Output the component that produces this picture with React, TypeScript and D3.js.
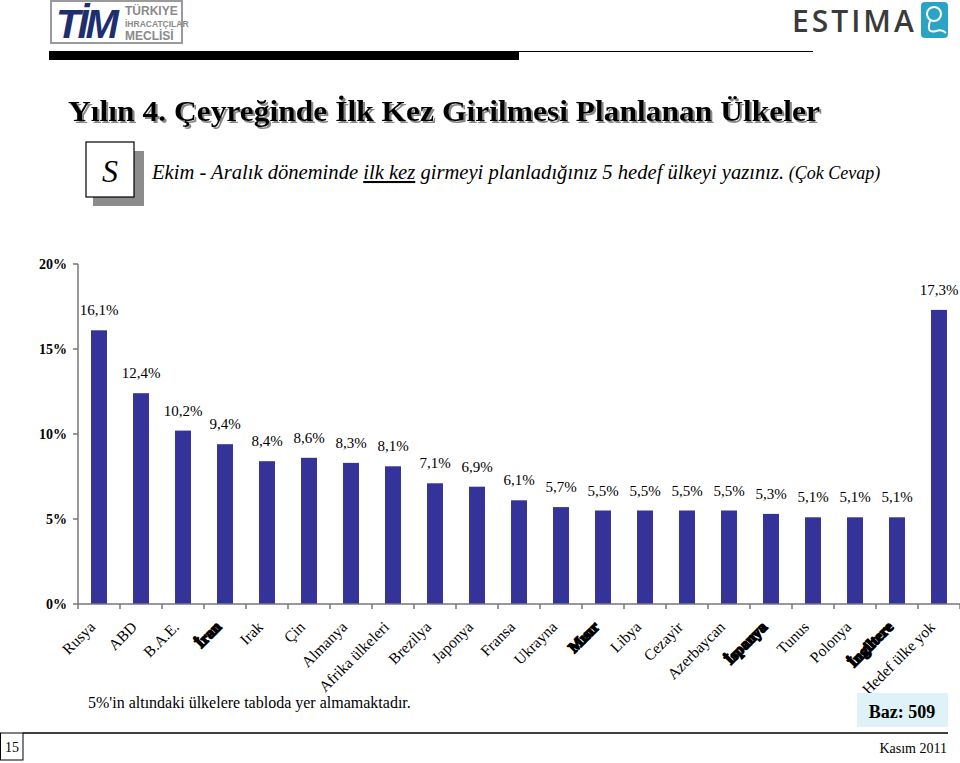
import React from "react";
import * as d3 from "d3";

const countries = [
  "Rusya", "ABD", "B.A.E.", "İran", "Irak", "Çin", "Almanya", "Afrika ülkeleri",
  "Brezilya", "Japonya", "Fransa", "Ukrayna", "Mısır", "Libya", "Cezayir",
  "Azerbaycan", "İspanya", "Tunus", "Polonya", "İngiltere", "Hedef ülke yok",
];
const shares = [
  16.1, 12.4, 10.2, 9.4, 8.4, 8.6, 8.3, 8.1, 7.1, 6.9, 6.1, 5.7, 5.5, 5.5, 5.5,
  5.5, 5.3, 5.1, 5.1, 5.1, 17.3,
];
// labels that look smudged / bold in the original slide
const boldLabels = ["İran", "Mısır", "İspanya", "İngiltere"];
const yTicks = [0, 5, 10, 15, 20];

const W = 960;
const H = 763;
const serif = "'Liberation Serif', 'DejaVu Serif', serif";
const barColor = "#333399";

const fmt = (v: number) => v.toFixed(1).replace(".", ",") + "%";

export default function App() {
  const x = d3.scaleBand<string>().domain(countries).range([78, 960]).paddingInner(0.62).paddingOuter(0.31);
  const y = d3.scaleLinear().domain([0, 20]).range([604, 264]);
  const step = x.step();
  const bounds = d3.range(countries.length + 1).map((i) => 78 + i * step);

  return (
    <svg width={W} height={H} style={{ position: "absolute", left: 0, top: 0 }} fontFamily={serif}>
      <defs>
        <filter id="titleShadow" x="-5%" y="-30%" width="110%" height="160%">
          <feDropShadow dx={2} dy={2} stdDeviation={0.6} floodColor="#888" floodOpacity={1} />
        </filter>
      </defs>
      <rect width={W} height={H} fill="#fff" />

      {/* TIM logo */}
      <g>
        <rect x={51} y={1} width={131} height={42} fill="#fff" stroke="#9a9a9a" strokeWidth={2} />
        <text x={56} y={38} fontFamily="'Liberation Sans', Arial, sans-serif" fontWeight="bold" fontStyle="italic" fontSize={40} fill="#1d2f6f" letterSpacing={-3}>TİM</text>
        <g fontFamily="'Liberation Sans', Arial, sans-serif" fontWeight="bold" fill="#8a8a8a">
          <text x={125} y={15} fontSize={12}>TÜRKIYE</text>
          <text x={125} y={27} fontSize={8.5}>İHRACATÇILAR</text>
          <text x={125} y={40} fontSize={12}>MECLİSİ</text>
        </g>
      </g>
      <rect x={49} y={51} width={470} height={9} fill="#000" />
      <line x1={519} x2={813} y1={51.5} y2={51.5} stroke="#000" strokeWidth={1} />

      {/* ESTIMA logo */}
      <text x={792} y={32} fontFamily="'Open Sans', 'DejaVu Sans', sans-serif" fontWeight="600" fontSize={30} fill="#3a3a3a" letterSpacing={3}>ESTIMA</text>
      <rect x={921} y={2} width={27} height={36} rx={4} fill="#2aa3c4" />
      <circle cx={934} cy={14} r={7} fill="none" stroke="#fff" strokeWidth={2} />
      <path d="M930 21 Q926 34 936 31 Q942 29 946 33" fill="none" stroke="#fff" strokeWidth={2} />

      {/* title */}
      <text x={68} y={121} fontSize={29} fontWeight="bold" fill="#000" filter="url(#titleShadow)" textLength={752} lengthAdjust="spacingAndGlyphs">Yılın 4. Çeyreğinde İlk Kez Girilmesi Planlanan Ülkeler</text>

      {/* question box */}
      <rect x={93} y={151} width={51} height={55} fill="#8c8c8c" />
      <rect x={86} y={142} width={48} height={55} fill="#fff" stroke="#000" strokeWidth={1.2} />
      <text x={110} y={182} fontSize={32} fontStyle="italic" textAnchor="middle">S</text>
      <text x={152} y={179} fontSize={20.6} fontStyle="italic">
        Ekim - Aralık döneminde <tspan textDecoration="underline">ilk kez</tspan> girmeyi planladığınız 5 hedef ülkeyi yazınız.
        <tspan fontSize={18}> (Çok Cevap)</tspan>
      </text>

      {/* y axis */}
      <line x1={78} x2={78} y1={264} y2={604} stroke="#777" strokeWidth={1.5} />
      {yTicks.map((t) => (
        <g key={t}>
          <line x1={73} x2={78} y1={y(t)} y2={y(t)} stroke="#777" strokeWidth={1.5} />
          <text x={67} y={y(t) + 5} textAnchor="end" fontSize={14} fontWeight="bold">{t}%</text>
        </g>
      ))}

      {/* bars */}
      {countries.map((c, i) => (
        <g key={c}>
          <rect x={x(c)} y={y(shares[i])} width={x.bandwidth()} height={y(0) - y(shares[i])} fill={barColor} />
          <text x={(x(c) as number) + x.bandwidth() / 2} y={y(shares[i]) - 15} textAnchor="middle" fontSize={15}>{fmt(shares[i])}</text>
        </g>
      ))}

      {/* x axis */}
      <line x1={78} x2={960} y1={604} y2={604} stroke="#777" strokeWidth={1.5} />
      {bounds.map((b, i) => (
        <line key={i} x1={b} x2={b} y1={604} y2={609} stroke="#777" strokeWidth={1.5} />
      ))}
      {countries.map((c) => {
        const cx = (x(c) as number) + x.bandwidth() / 2;
        const bold = boldLabels.includes(c);
        return (
          <text key={c} transform={`translate(${cx - 3},${628}) rotate(-45)`} textAnchor="end" fontSize={15.5}
            fontWeight={bold ? "bold" : "normal"} stroke={bold ? "#000" : "none"} strokeWidth={bold ? 1.6 : 0}>
            {c}
          </text>
        );
      })}

      {/* footer */}
      <text x={88} y={708} fontSize={16}>5%'in altındaki ülkelere tabloda yer almamaktadır.</text>
      <rect x={857} y={693} width={91} height={34} fill="#dff2f7" />
      <text x={902} y={718} textAnchor="middle" fontSize={18} fontWeight="bold">Baz: 509</text>
      <line x1={23} x2={948} y1={733} y2={733} stroke="#000" strokeWidth={1.5} />
      <rect x={0.5} y={733} width={22.5} height={27} fill="#fff" stroke="#000" strokeWidth={1} />
      <text x={12} y={752} textAnchor="middle" fontSize={14}>15</text>
      <text x={947} y={753} textAnchor="end" fontSize={14}>Kasım 2011</text>
    </svg>
  );
}
